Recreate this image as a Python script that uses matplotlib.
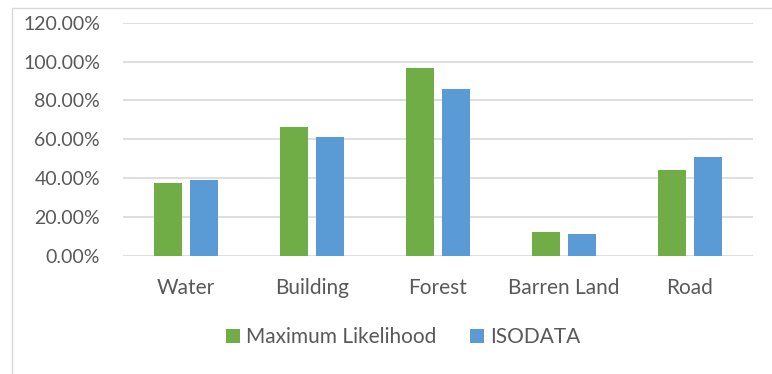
import matplotlib.pyplot as plt
from matplotlib.patches import Rectangle
from matplotlib.ticker import FuncFormatter
import numpy as np

# Data
categories = ['Water', 'Building', 'Forest', 'Barren Land', 'Road']
max_likelihood = [37.4, 66.2, 96.8, 12.2, 44.0]
isodata = [39.1, 61.0, 85.7, 11.1, 50.7]
yticks = [0, 20, 40, 60, 80, 100, 120]

GREEN = '#70AD47'
BLUE = '#5B9BD5'
TEXT = '#595959'
GRID = '#D9D9D9'


def main():
    plt.rcParams['font.family'] = ['Lato', 'DejaVu Sans']

    fig = plt.figure(figsize=(7.72, 3.74), dpi=100)
    ax = fig.add_axes([0.1593, 0.3155, 0.8157, 0.6238])

    # outer chart border (Excel style)
    fig.patches.append(Rectangle((12 / 772, -0.1), 1.2, 1 - 8 / 374 + 0.1,
                                 transform=fig.transFigure, fill=False,
                                 edgecolor=GRID, linewidth=1))

    x = np.arange(len(categories))
    w = 0.224
    off = 0.143
    ax.bar(x - off, max_likelihood, w, color=GREEN, label='Maximum Likelihood', zorder=3)
    ax.bar(x + off, isodata, w, color=BLUE, label='ISODATA', zorder=3)

    ax.set_xlim(-0.5, len(categories) - 0.5)
    ax.set_ylim(0, 120)
    ax.set_yticks(yticks)
    ax.yaxis.set_major_formatter(FuncFormatter(lambda v, p: f'{v:.2f}%'))
    ax.set_xticks(x)
    ax.set_xticklabels(categories)

    ax.grid(axis='y', color=GRID, linewidth=1.2, zorder=0)
    for s in ax.spines.values():
        s.set_visible(False)
    ax.tick_params(length=0, colors=TEXT)
    ax.tick_params(axis='x', labelsize=15, pad=16)
    ax.tick_params(axis='y', labelsize=14, pad=16.5)

    leg = fig.legend(loc='center', bbox_to_anchor=(0.522, 0.098), ncol=2,
                     frameon=False, fontsize=15, handlelength=0.67,
                     handleheight=0.67, handletextpad=0.29, columnspacing=1.6)
    for t in leg.get_texts():
        t.set_color(TEXT)

    plt.savefig('out.png', dpi=100)


if __name__ == "__main__":
    main()
